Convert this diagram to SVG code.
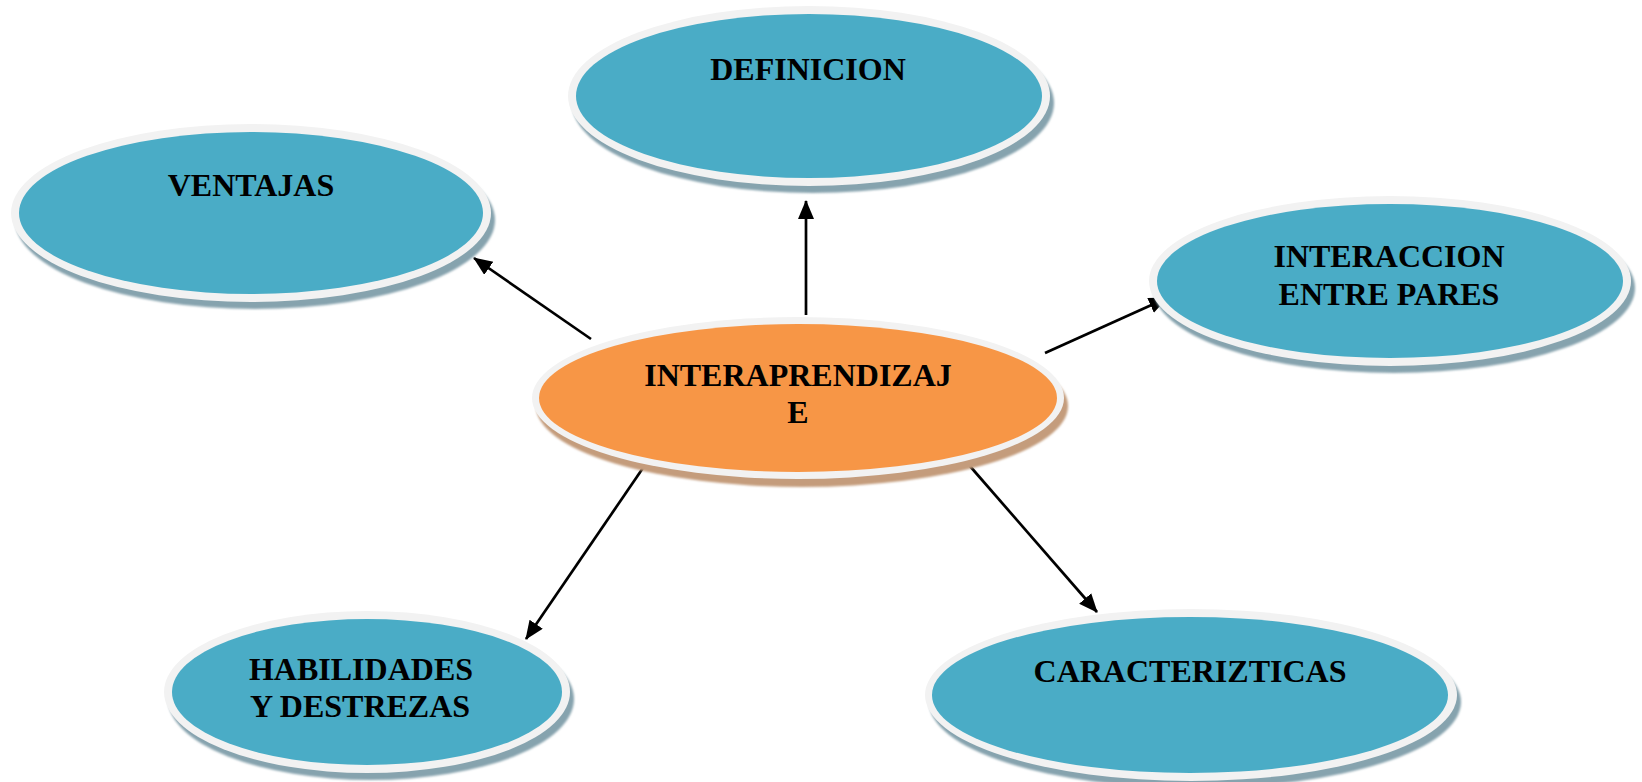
<svg xmlns="http://www.w3.org/2000/svg" width="1642" height="782" viewBox="0 0 1642 782">
<style>
.ring{fill:#f2f2f2}
.shb{fill:#86a3ae}
.sho{fill:#c49c7c}
.blue{fill:#4aacc6}
.orange{fill:#f79646}
.t{font-family:"Liberation Serif","Times New Roman",serif;font-weight:bold;font-size:32px;fill:#000;text-anchor:middle}
.c{stroke:#000;stroke-width:2.7;fill:none;marker-end:url(#ah)}
</style>
<defs>
<filter id="blur" x="-5%" y="-5%" width="110%" height="115%"><feGaussianBlur stdDeviation="1"/></filter>
<marker id="ah" markerUnits="userSpaceOnUse" markerWidth="20" markerHeight="18" refX="18" refY="8" orient="auto">
<path d="M0,0 L19,8 L0,16 z" fill="#000"/>
</marker>
</defs>
<rect width="1642" height="782" fill="#fff"/>
<g id="connectors">
<line class="c" x1="591" y1="339" x2="474" y2="258"/>
<line class="c" x1="806" y1="315" x2="806" y2="201"/>
<line class="c" x1="1045" y1="353" x2="1167" y2="298"/>
<line class="c" x1="645" y1="465" x2="526" y2="639"/>
<line class="c" x1="969" y1="465" x2="1097" y2="612"/>
</g>
<g id="definicion">
<ellipse class="shb" filter="url(#blur)" cx="813" cy="103" rx="241" ry="90"/>
<ellipse class="ring" cx="809" cy="96" rx="241" ry="90"/>
<ellipse class="blue" cx="809" cy="96" rx="233" ry="82"/>
<text class="t" x="808" y="80">DEFINICION</text>
</g>
<g id="ventajas">
<ellipse class="shb" filter="url(#blur)" cx="255" cy="220" rx="240" ry="89"/>
<ellipse class="ring" cx="251" cy="213" rx="240" ry="89"/>
<ellipse class="blue" cx="251" cy="213" rx="232" ry="81"/>
<text class="t" x="251" y="196">VENTAJAS</text>
</g>
<g id="interaccion">
<ellipse class="shb" filter="url(#blur)" cx="1394" cy="288" rx="241" ry="85"/>
<ellipse class="ring" cx="1390" cy="281" rx="241" ry="85"/>
<ellipse class="blue" cx="1390" cy="281" rx="233" ry="77"/>
<text class="t" x="1389" y="267">INTERACCION</text>
<text class="t" x="1389" y="305">ENTRE PARES</text>
</g>
<g id="interaprendizaje">
<ellipse class="sho" filter="url(#blur)" cx="802" cy="406" rx="266" ry="81"/>
<ellipse class="ring" cx="798" cy="398" rx="266" ry="81"/>
<ellipse class="orange" cx="798" cy="398" rx="259" ry="74"/>
<text class="t" x="798" y="386">INTERAPRENDIZAJ</text>
<text class="t" x="798" y="423">E</text>
</g>
<g id="habilidades">
<ellipse class="shb" filter="url(#blur)" cx="371" cy="699" rx="203" ry="81"/>
<ellipse class="ring" cx="367" cy="692" rx="203" ry="81"/>
<ellipse class="blue" cx="367" cy="692" rx="195" ry="73"/>
<text class="t" x="361" y="680">HABILIDADES</text>
<text class="t" x="360" y="717">Y DESTREZAS</text>
</g>
<g id="caracterizticas">
<ellipse class="shb" filter="url(#blur)" cx="1195" cy="702" rx="266" ry="86"/>
<ellipse class="ring" cx="1191" cy="695" rx="266" ry="86"/>
<ellipse class="blue" cx="1190" cy="695" rx="258" ry="78"/>
<text class="t" x="1190" y="682">CARACTERIZTICAS</text>
</g>
</svg>
